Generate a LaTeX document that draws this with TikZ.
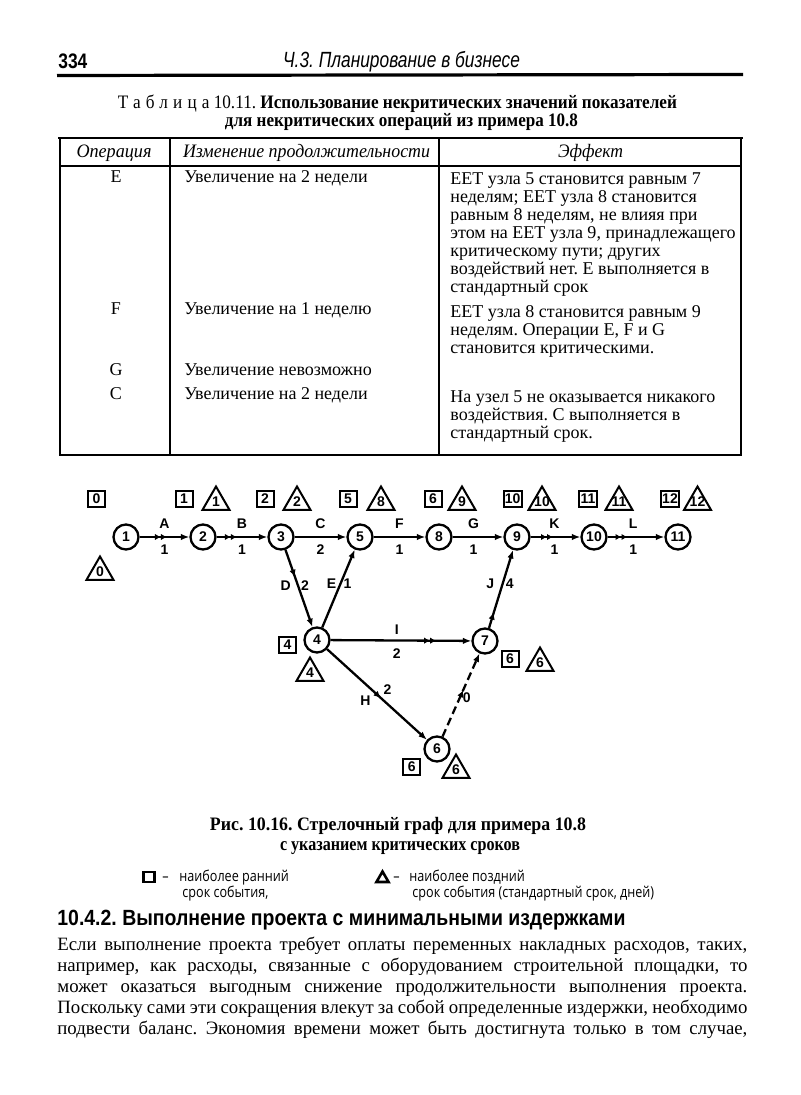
\documentclass[tikz,border=0pt]{standalone}
\usepackage{fontspec}
\setmainfont{Liberation Serif}
\newfontfamily\sansf{Liberation Sans}
\newfontfamily\legf{Open Sans}
\usetikzlibrary{arrows.meta,decorations.markings,shapes.geometric}
\newcommand{\fitw}[2]{\resizebox{#1}{\height}{#2}}
\newcommand{\jline}[1]{\makebox[345pt][s]{#1}}
\newcommand{\zw}[1]{\makebox[0pt]{#1}}
\newlength{\lgw}
\frenchspacing
\tikzset{
  tline/.style={inner sep=0pt, anchor=mid west, font=\fontsize{9}{9}\selectfont},
  tcen/.style={inner sep=0pt, anchor=mid, font=\fontsize{9}{9}\selectfont},
  thd/.style={inner sep=0pt, anchor=mid, font=\itshape\fontsize{9.5}{9}\selectfont},
  dfont/.style={font=\sansf\bfseries\fontsize{7}{8}\selectfont},
  evt/.style={circle, draw, line width=1.15pt, minimum size=12.5pt, inner sep=0pt, dfont},
  sqb/.style={draw, line width=1pt, minimum width=8.5pt, minimum height=8pt, inner sep=0.6pt, dfont},
  trib/.style={regular polygon, regular polygon sides=3, draw, line width=1pt, minimum size=15.5pt, inner sep=0pt, dfont},
  lbl/.style={inner sep=1pt, dfont},
  arr/.style={line width=1.15pt, -{Latex[length=4.2pt,width=3.2pt]}},
  crit/.style={postaction={decorate}, decoration={markings, mark=at position #1 with {\arrow{Latex[length=3.6pt,width=3.2pt]}}}},
  crit/.default=0.5,
  critd/.style={postaction={decorate}, decoration={markings, mark=at position #1 with {\arrow{Latex[length=3pt,width=3.2pt] Latex[length=3pt,width=3.2pt]}}}},
  critd/.default=0.5,
  body/.style={inner sep=0pt, anchor=mid west, font=\fontsize{9.4}{10}\selectfont},
  legt/.style={inner sep=0pt, anchor=mid west, font=\legf\fontsize{7.5}{8}\selectfont},
  capt/.style={inner sep=0pt, anchor=mid, font=\bfseries\fontsize{9.5}{10}\selectfont},
}
\begin{document}
\settowidth{\lgw}{\legf\fontsize{7.5}{8}\selectfont срок события,}%
\pgfmathsetmacro{\lgsx}{43/\lgw}%
\begin{tikzpicture}[x=0.5pt,y=-0.5pt]
\fill[white] (0,0) rectangle (800,1095);
\useasboundingbox (0,0) rectangle (800,1095);

% ---------- page header ----------
\node[inner sep=0pt, anchor=mid west, font=\sansf\bfseries\fontsize{10.5}{11}\selectfont] (pgno) at (58,64) {\fitw{14.5pt}{334}};
\node[inner sep=0pt, anchor=mid, font=\sansf\itshape\fontsize{11}{12}\selectfont] (runhead) at (401.5,63) {\fitw{118.5pt}{Ч.3. Планирование в бизнесе}};
\draw[line width=1.6pt] (57,75.5) -- (743,74.5);

% ---------- table title ----------
\node[inner sep=0pt, anchor=mid, font=\fontsize{9.5}{10}\selectfont] (ttl1) at (397.5,104) {\fitw{279.5pt}{{\addfontfeature{LetterSpace=30}Таблица} 10.11. \textbf{Использование некритических значений показателей}}};
\node[inner sep=0pt, anchor=mid, font=\bfseries\fontsize{9.5}{10}\selectfont] (ttl2) at (401.5,122) {\fitw{176.5pt}{для некритических операций из примера 10.8}};

% ---------- table frame ----------
\draw[line width=1.3pt] (58,138) -- (743,138);
\draw[line width=1pt] (60,138) -- (60,455) -- (741,455) -- (741,138);
\draw[line width=0.8pt] (60,166) -- (741,166);
\draw[line width=0.8pt] (170,138) -- (170,455);
\draw[line width=0.8pt] (439,138) -- (439,455);

% header row
\node[thd] (h1) at (114,153) {\fitw{37.5pt}{Операция}};
\node[thd] (h2) at (306.5,153) {\fitw{123.5pt}{Изменение продолжительности}};
\node[thd] (h3) at (590.5,153) {\fitw{32.5pt}{Эффект}};

% row E
\node[tcen] (rE) at (116,178) {E};
\node[tline] (cE) at (184,178) {Увеличение на 2 недели};
\node[tline] (e1) at (450,180) {ЕЕТ узла 5 становится равным 7};
\node[tline] (e2) at (450,198) {неделям; ЕЕТ узла 8 становится};
\node[tline] (e3) at (450,216) {равным 8 неделям, не влияя при};
\node[tline] (e4) at (450,234) {этом на ЕЕТ узла 9, принадлежащего};
\node[tline] (e5) at (450,252) {критическому пути; других};
\node[tline] (e6) at (450,270) {воздействий нет. Е выполняется в};
\node[tline] (e7) at (450,288) {стандартный срок};
% row F
\node[tcen] (rF) at (116,310) {F};
\node[tline] (cF) at (184,310) {Увеличение на 1 неделю};
\node[tline] (f1) at (450,313) {ЕЕТ узла 8 становится равным 9};
\node[tline] (f2) at (450,331) {неделям. Операции Е, F и G};
\node[tline] (f3) at (450,349) {становится критическими.};
% row G
\node[tcen] (rG) at (116,371) {G};
\node[tline] (cG) at (184,371) {Увеличение невозможно};
% row C
\node[tcen] (rC) at (116,395) {C};
\node[tline] (cC) at (184,395) {Увеличение на 2 недели};
\node[tline] (g1) at (450,398) {На узел 5 не оказывается никакого};
\node[tline] (g2) at (450,416) {воздействия. С выполняется в};
\node[tline] (g3) at (450,434) {стандартный срок.};

% ---------- network ----------
\node[evt] (n1) at (126,537) {1};
\node[evt] (n2) at (203,537) {2};
\node[evt] (n3) at (281,537) {3};
\node[evt] (n5) at (360,537) {5};
\node[evt] (n8) at (439,537) {8};
\node[evt] (n9) at (517,537) {9};
\node[evt] (n10) at (594,537) {10};
\node[evt] (n11) at (678,537) {11};
\node[evt] (n4) at (317,640) {4};
\node[evt] (n7) at (485,641) {7};
\node[evt] (n6) at (437,749) {6};

% earliest (square) and latest (triangle) times
\node[sqb] (s1) at (96.5,499) {0};
\node[trib] (t1) at (100,572) {\zw{0}};
\node[sqb] (s2) at (184,499) {1};
\node[trib] (t2) at (216,502) {\zw{1}};
\node[sqb] (s3) at (265,499) {2};
\node[trib] (t3) at (297,502) {\zw{2}};
\node[sqb] (s5) at (348,499) {5};
\node[trib] (t5) at (381,502) {\zw{8}};
\node[sqb] (s8) at (433,499) {6};
\node[trib] (t8) at (462,502) {\zw{9}};
\node[sqb] (s9) at (512.7,499) {10};
\node[trib] (t9) at (542,502) {\zw{10}};
\node[sqb] (s10) at (588,499) {11};
\node[trib] (t10) at (619,502) {\zw{11}};
\node[sqb] (s11) at (670,499) {12};
\node[trib] (t11) at (697.5,502) {\zw{12}};
\node[sqb] (s4) at (287.5,645) {4};
\node[trib] (t4) at (310,673) {\zw{4}};
\node[sqb] (s7) at (510,659) {6};
\node[trib] (t7) at (540,663) {\zw{6}};
\node[sqb] (s6) at (411.7,767) {6};
\node[trib] (t6) at (456,770) {\zw{6}};

% activities
\draw[arr,critd=0.55] (n1) -- node[lbl,above=2.5pt] (lA) {A} node[lbl,below=2.5pt] (dA) {1} (n2);
\draw[arr,critd=0.4] (n2) -- node[lbl,above=2.5pt] (lB) {B} node[lbl,below=2.5pt] (dB) {1} (n3);
\draw[arr] (n3) -- node[lbl,above=2.5pt] (lC) {C} node[lbl,below=2.5pt] (dC) {2} (n5);
\draw[arr] (n5) -- node[lbl,above=2.5pt] (lF) {F} node[lbl,below=2.5pt] (dF) {1} (n8);
\draw[arr] (n8) -- node[lbl,pos=0.41,above=2.5pt] (lG) {G} node[lbl,pos=0.41,below=2.5pt] (dG) {1} (n9);
\draw[arr,critd=0.45] (n9) -- node[lbl,pos=0.48,above=2.5pt] (lK) {K} node[lbl,pos=0.48,below=2.5pt] (dK) {1} (n10);
\draw[arr,critd=0.35] (n10) -- node[lbl,pos=0.45,above=2.5pt] (lL) {L} node[lbl,pos=0.45,below=2.5pt] (dL) {1} (n11);
\draw[arr,crit=0.35] (n3) -- node[lbl,pos=0.46,anchor=east,xshift=-2pt] (lD) {D} node[lbl,pos=0.46,anchor=west] (dD) {2} (n4);
\draw[arr] (n4) -- node[lbl,pos=0.56,anchor=east,xshift=-0.5pt] (lE) {E} node[lbl,pos=0.56,anchor=west] (dE) {1} (n5);
\draw[arr,critd=0.75] (n4) -- node[lbl,pos=0.47,above=1.5pt] (lI) {I} node[lbl,pos=0.47,below=2.5pt] (dI) {2} (n7);
\draw[arr,crit=0.54] (n4) -- node[lbl,pos=0.485,anchor=north east,xshift=-1pt] (lH) {H} node[lbl,pos=0.535,anchor=south west] (dH) {2} (n6);
\draw[arr,crit=0.56,dash pattern=on 4pt off 2.2pt] (n6) -- node[lbl,pos=0.465,anchor=west] (d0) {0} (n7);
\draw[arr,crit=0.2] (n7) -- node[lbl,pos=0.567,anchor=east,xshift=-2.7pt] (lJ) {J} node[lbl,pos=0.567,anchor=west] (dJ) {4} (n9);

% ---------- caption ----------
\node[capt] (cap1) at (398,826) {\fitw{188pt}{Рис. 10.16. Стрелочный граф для примера 10.8}};
\node[capt] (cap2) at (400,846) {\fitw{120pt}{с указанием критических сроков}};

% ---------- legend ----------
\node[draw, line width=1.3pt, minimum width=5.5pt, minimum height=5pt, inner sep=0pt] (lsq) at (149,877) {};
\node[legt] (lg1d) at (162,877) {\scalebox{\lgsx}[1]{–}};
\node[legt] (lg1) at (179,877) {\scalebox{\lgsx}[1]{наиболее ранний}};
\node[legt] (lg2) at (182,893) {\scalebox{\lgsx}[1]{срок события,}};
\node[regular polygon, regular polygon sides=3, draw, line width=1.3pt, minimum size=7pt, inner sep=0pt] (ltr) at (382.5,878.5) {};
\node[legt] (lg3d) at (393,877) {\scalebox{\lgsx}[1]{–}};
\node[legt] (lg3) at (409,877) {\scalebox{\lgsx}[1]{наиболее поздний}};
\node[legt] (lg4) at (412,893) {\scalebox{\lgsx}[1]{срок события (стандартный срок, дней)}};

% ---------- section heading and text ----------
\node[inner sep=0pt, anchor=mid west, font=\sansf\bfseries\fontsize{11}{12}\selectfont] (sec) at (57,921) {\fitw{284pt}{10.4.2. Выполнение проекта с минимальными издержками}};
\node[body] (b1) at (57,946) {\jline{Если выполнение проекта требует оплаты переменных накладных расходов, таких,}};
\node[body] (b2) at (57,967) {\jline{например, как расходы, связанные с оборудованием строительной площадки, то}};
\node[body] (b3) at (57,988) {\jline{может оказаться выгодным снижение продолжительности выполнения проекта.}};
\node[body] (b4) at (57,1009) {\jline{Поскольку сами эти сокращения влекут за собой определенные издержки, необходимо}};
\node[body] (b5) at (57,1030) {\jline{подвести баланс. Экономия времени может быть достигнута только в том случае,}};
\end{tikzpicture}
\end{document}
